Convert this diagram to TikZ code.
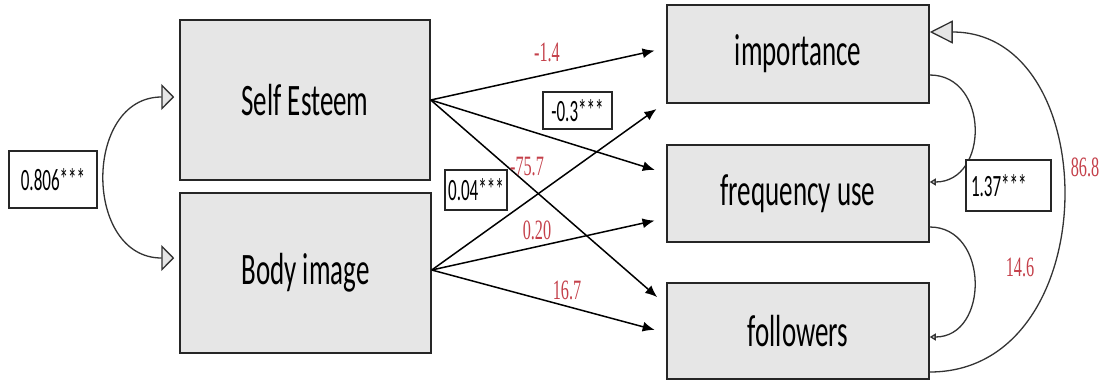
\documentclass[tikz,border=0pt]{standalone}
\usepackage{fontspec}
\setmainfont{Carlito}
\newfontfamily\boxfont[FakeStretch=0.6]{Carlito}
\newfontfamily\estfont[FakeStretch=0.55]{Carlito}
\newfontfamily\numfont[FakeStretch=0.58]{Liberation Serif}
\usetikzlibrary{arrows.meta}
\definecolor{boxgray}{RGB}{230,230,230}
\definecolor{coefred}{RGB}{196,64,74}
\tikzset{
  var/.style={draw=black!85, line width=1.5pt, fill=boxgray, inner sep=0pt,
    font=\boxfont\fontsize{45}{47}\selectfont},
  est/.style={draw=black!85, line width=1.2pt, fill=white, inner sep=0pt,
    font=\estfont\fontsize{31}{33}\selectfont},
  coef/.style={text=coefred, inner sep=0pt, font=\numfont\fontsize{28}{30}\selectfont},
  path/.style={line width=1.5pt, -{Latex[length=12pt,width=10pt]}, shorten >=12pt},
  covbig/.style={line width=1.3pt, black!80, {Triangle[fill=boxgray,length=13pt,width=26pt]}-{Triangle[fill=boxgray,length=13pt,width=26pt]}},
  covsmall/.style={line width=1.3pt, black!80, -{Triangle[fill=boxgray,length=6pt,width=7pt]}},
}
\begin{document}
\begin{tikzpicture}[x=1pt,y=-1pt]
  \useasboundingbox (0,0) rectangle (1107,381);
  % exogenous
  \node[var, minimum width=250pt, minimum height=160pt] (se) at (305,100) {Self Esteem};
  \node[var, minimum width=251pt, minimum height=160pt] (bi) at (305.5,273) {Body image};
  % outcomes
  \node[var, minimum width=262pt, minimum height=98pt] (imp) at (798,54) {importance};
  \node[var, minimum width=262pt, minimum height=97pt] (freq) at (798,193.5) {frequency use};
  \node[var, minimum width=262pt, minimum height=96pt] (foll) at (798,331) {followers};

  % paths
  \draw[path] (se.east) -- ([yshift=6pt]imp.west);
  \draw[path] (se.east) -- ([yshift=20pt]freq.west);
  \draw[path] (se.east) -- ([yshift=26pt]foll.west);
  \draw[path] ([yshift=3pt]bi.east) -- ([yshift=-48pt]imp.west);
  \draw[path] ([yshift=3pt]bi.east) -- ([yshift=-24.5pt]freq.west);
  \draw[path] ([yshift=3pt]bi.east) -- ([yshift=-2pt]foll.west);

  % covariances
  \draw[covbig] ([xshift=-5pt,yshift=3pt]se.west) to[out=180,in=180,looseness=1.45] ([xshift=-5pt,yshift=15pt]bi.west);
  \draw[covsmall] ([yshift=-21pt]imp.east) to[out=0,in=0,looseness=1.43] ([yshift=11.5pt]freq.east);
  \draw[covsmall] ([yshift=-33.5pt]freq.east) to[out=0,in=0,looseness=1.39] ([yshift=-6pt]foll.east);
  \draw[line width=1.3pt, black!80, -{Triangle[fill=boxgray,length=23pt,width=23pt]}]
    ([yshift=-41pt]foll.east) to[out=0,in=0,looseness=1.33] ([yshift=22pt]imp.east);

  % estimates
  \node[est, minimum width=88pt, minimum height=57pt] (e1) at (53,179.5) {0.806***};
  \node[est, minimum width=69pt, minimum height=37pt] (e2) at (577.5,110.5) {-0.3***};
  \node[est, minimum width=62pt, minimum height=40pt] (e3) at (476,190) {0.04***};
  \node[est, minimum width=85pt, minimum height=51pt, text width=75pt, align=left] (e4) at (1008.5,185.5) {1.37***};
  \node[coef] (c1) at (547,52) {-1.4};
  \node[coef] (c2) at (527,167) {-75.7};
  \node[coef] (c3) at (537,230) {0.20};
  \node[coef] (c4) at (567,290) {16.7};
  \node[coef] (c5) at (1085,167) {86.8};
  \node[coef] (c6) at (1020,267) {14.6};
\end{tikzpicture}
\end{document}
